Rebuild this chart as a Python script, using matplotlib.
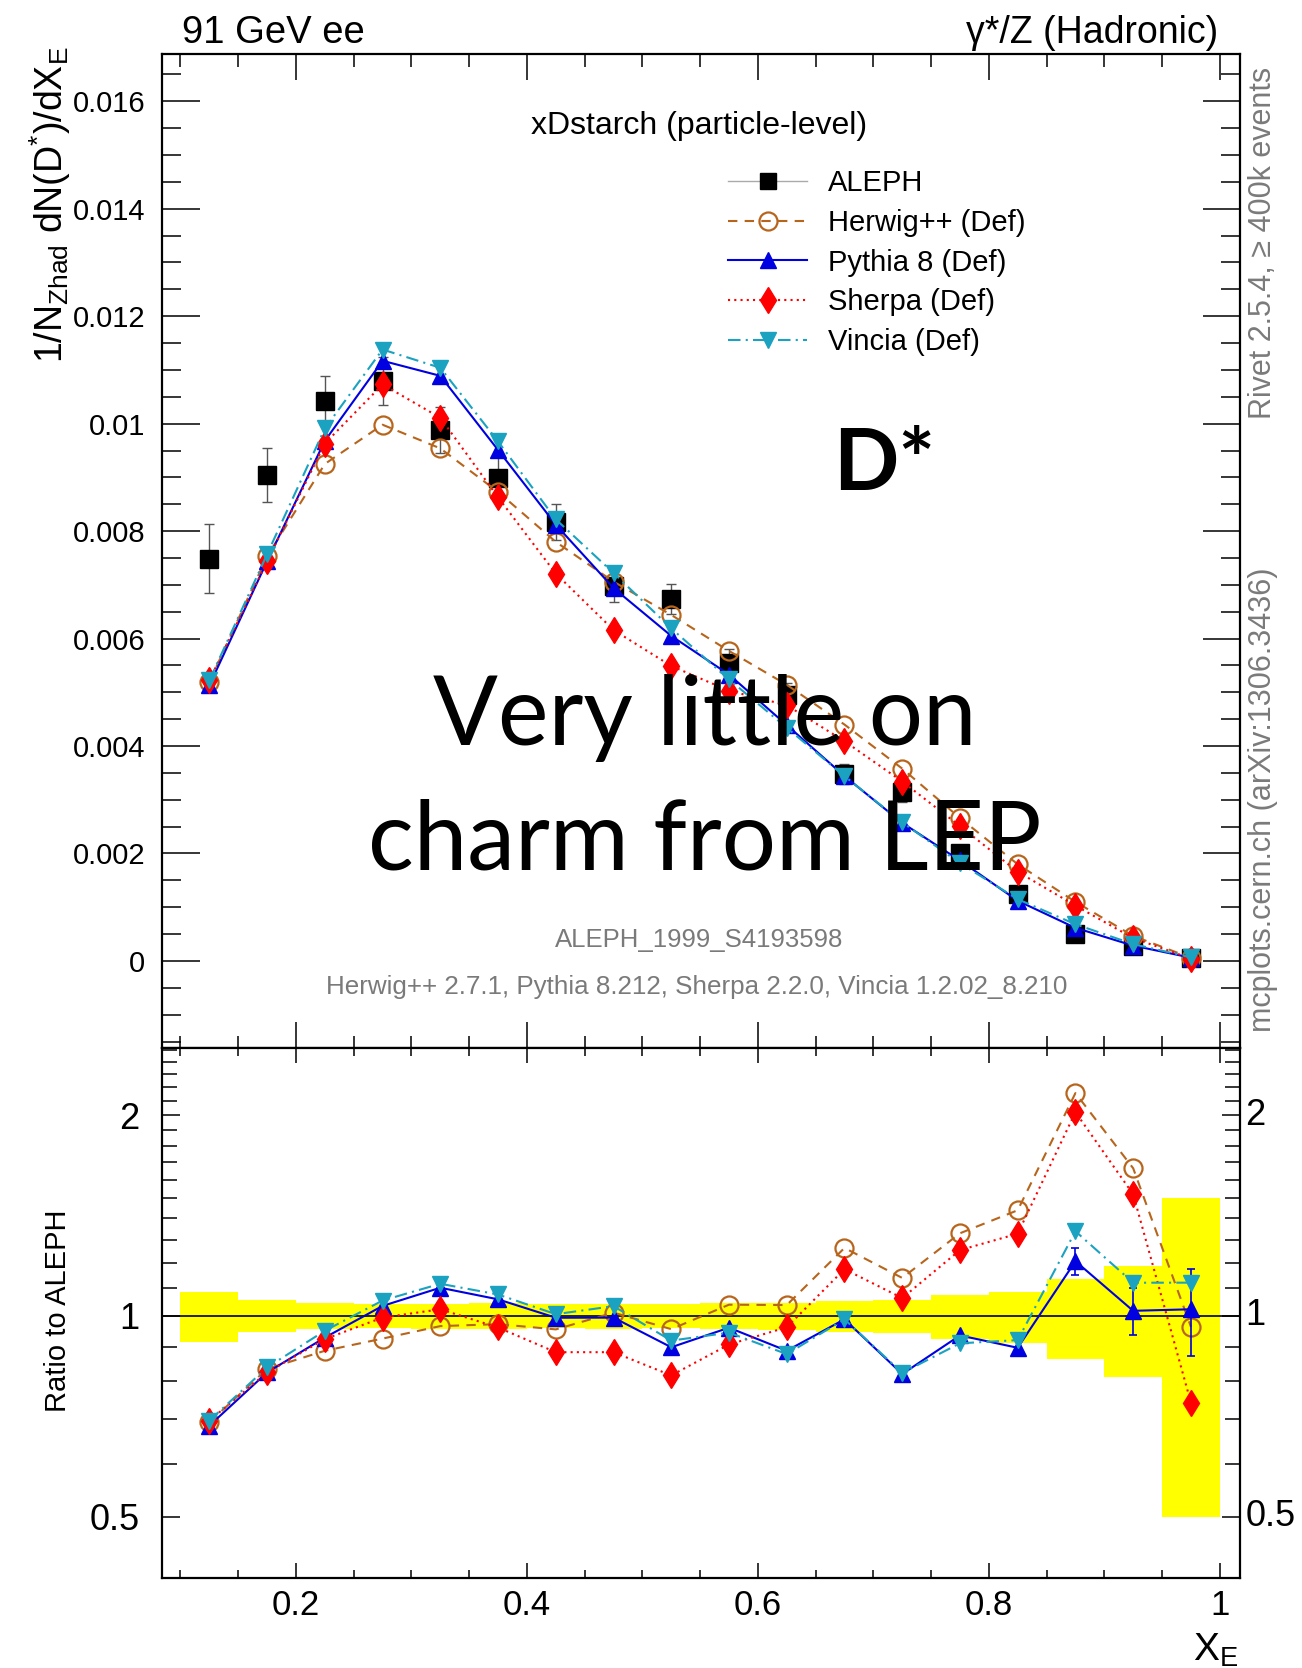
import matplotlib
matplotlib.use('Agg')
import matplotlib.pyplot as plt
from matplotlib.ticker import FixedLocator, MultipleLocator, FuncFormatter, NullFormatter
from matplotlib.lines import Line2D
import numpy as np

plt.rcParams['font.family'] = ['Liberation Sans', 'DejaVu Sans']
plt.rcParams['mathtext.fontset'] = 'custom'
plt.rcParams['mathtext.rm'] = 'Liberation Sans'
plt.rcParams['mathtext.it'] = 'Liberation Sans'
plt.rcParams['mathtext.bf'] = 'Liberation Sans:bold'

# D* scaled energy spectrum, bin centres (bins of 0.05 from 0.1 to 1.0)
x_e = [0.125, 0.175, 0.225, 0.275, 0.325, 0.375, 0.425, 0.475, 0.525,
       0.575, 0.625, 0.675, 0.725, 0.775, 0.825, 0.875, 0.925, 0.975]

aleph = [0.00749, 0.00904, 0.01043, 0.01079, 0.00988, 0.00898, 0.00817, 0.00698, 0.00674,
         0.00555, 0.00495, 0.00348, 0.00314, 0.00200, 0.00125, 0.00051, 0.00028, 0.00006]
aleph_err = [0.00064, 0.00050, 0.00046, 0.00045, 0.00043, 0.00040, 0.00034, 0.00030, 0.00028,
             0.00025, 0.00023, 0.00019, 0.00018, 0.00015, 0.00011, 0.00007, 0.000053, 0.00003]

herwig = [0.00519, 0.00753, 0.00925, 0.00998, 0.00954, 0.00873, 0.00780, 0.00706, 0.00644,
          0.00577, 0.00514, 0.00440, 0.00358, 0.00266, 0.00180, 0.00110, 0.000466, 0.0000578]
pythia = [0.00513, 0.00744, 0.00968, 0.01117, 0.01089, 0.00951, 0.00812, 0.00694, 0.00605,
          0.00533, 0.00439, 0.00344, 0.00257, 0.00187, 0.00112, 0.000616, 0.000285, 0.0000614]
sherpa = [0.00522, 0.00744, 0.00963, 0.01073, 0.01011, 0.00863, 0.00721, 0.00616, 0.00549,
          0.00503, 0.00476, 0.00409, 0.00334, 0.00251, 0.00166, 0.00103, 0.000426, 0.0000445]
vincia = [0.00522, 0.00757, 0.00991, 0.01138, 0.01104, 0.00967, 0.00822, 0.00722, 0.00619,
          0.00524, 0.00434, 0.00344, 0.00258, 0.00182, 0.00115, 0.000683, 0.000314, 0.0000673]
# MC stat errors, only visible in the last bins
pythia_err_tail = [0.000029, 0.000023, 0.0000092]

W, H = 1302, 1668


def fx(px):
    return px / W


def fy(py):
    return 1 - py / H


fig = plt.figure(figsize=(W / 100, H / 100), dpi=100)
ax = fig.add_axes([fx(162), fy(1048), (1240 - 162) / W, (1048 - 54) / H])
rax = fig.add_axes([fx(162), fy(1578), (1240 - 162) / W, (1578 - 1048) / H])

for a in (ax, rax):
    for s in a.spines.values():
        s.set_linewidth(1.6)
    a.set_xlim(0.084, 1.0175)
    a.xaxis.set_major_locator(MultipleLocator(0.2))
    a.xaxis.set_minor_locator(MultipleLocator(0.05))
    a.tick_params(which='both', direction='in', top=True, right=True, width=1.1)

gfmt = FuncFormatter(lambda v, p: '%g' % round(v, 6))

# ---- main panel
ax.set_ylim(-0.00162, 0.01688)
ax.yaxis.set_major_locator(MultipleLocator(0.002))
ax.yaxis.set_minor_locator(MultipleLocator(0.0005))
ax.yaxis.set_major_formatter(gfmt)
ax.tick_params(axis='x', which='major', length=19, labelbottom=False)
ax.tick_params(axis='x', which='minor', length=9)
ax.tick_params(axis='y', which='major', length=27, labelsize=21, pad=12)
ax.tick_params(axis='y', which='minor', length=13.5)

ax.errorbar(x_e, aleph, yerr=aleph_err, fmt='s', color='k', ms=12.5,
            ecolor='#555555', elinewidth=1, capsize=3.5, capthick=1, zorder=3)

styles = [
    ('Herwig++ (Def)', herwig, dict(color='#b8651c', ls=(0, (4.5, 3.5)), marker='o',
                                    mfc='none', mec='#b8651c', mew=1.6, ms=13)),
    ('Pythia 8 (Def)', pythia, dict(color='#0000e0', ls='-', marker='^', ms=12)),
    ('Sherpa (Def)', sherpa, dict(color='#ff0000', ls=(0, (1, 2)), marker='d', ms=13)),
    ('Vincia (Def)', vincia, dict(color='#1aa2c0', ls=(0, (6, 2.5, 1, 2.5)), marker='v', ms=12)),
]

handles = [Line2D([], [], color='#aaaaaa', lw=1, marker='s', mfc='k', mec='k', ms=12)]
labels = ['ALEPH']
aleph_arr = np.array(aleph)
for i, (name, vals, st) in enumerate(styles):
    ln, = ax.plot(x_e, vals, lw=1.5, zorder=4 + i, **st)
    handles.append(ln)
    labels.append(name)
    rax.plot(x_e, np.array(vals) / aleph_arr, lw=1.5, zorder=4 + i, **st)

rax.errorbar(x_e[-3:], np.array(pythia[-3:]) / aleph_arr[-3:],
             yerr=np.array(pythia_err_tail) / aleph_arr[-3:], fmt='none',
             ecolor='#0000e0', elinewidth=1.2, capsize=3, capthick=1.2, zorder=5)

ax.legend(handles, labels, loc='upper left', bbox_to_anchor=(0.5255, 0.884),
          frameon=False, fontsize=21, handlelength=2.7, handletextpad=0.7,
          labelspacing=0.4, borderpad=0, borderaxespad=0, numpoints=1)

# ---- ratio panel
rel = np.array(aleph_err) / aleph_arr
rax.bar(x_e, 2 * rel, bottom=1 - rel, width=0.05, color='#ffff00', lw=0, zorder=1)
rax.axhline(1, color='k', lw=1.2, zorder=2)
rax.set_yscale('log')
rax.set_ylim(0.405, 2.52)
rax.yaxis.set_major_locator(FixedLocator([0.5, 1, 2]))
rax.yaxis.set_major_formatter(gfmt)
rax.yaxis.set_minor_locator(FixedLocator([v for v in np.arange(0.4, 2.55, 0.1)
                                          if min(abs(v - m) for m in (0.5, 1, 2)) > 1e-6]))
rax.yaxis.set_minor_formatter(NullFormatter())
rax.xaxis.set_major_formatter(gfmt)
rax.tick_params(axis='x', which='major', length=11, labelsize=25, pad=8)
rax.tick_params(axis='x', which='minor', length=6)
rax.tick_params(axis='y', which='major', length=13, labelsize=26, pad=16)
rax.tick_params(axis='y', which='minor', length=11)
for v in (0.5, 1, 2):
    rax.text(1.005, v, '%g' % v, transform=rax.get_yaxis_transform(),
             ha='left', va='center', fontsize=26)

# ---- labels and annotations
fig.text(fx(182), fy(43), '91 GeV ee', fontsize=27.5, ha='left', va='baseline')
fig.text(fx(1218), fy(43), 'γ*/Z (Hadronic)', fontsize=27, ha='right', va='baseline')
fig.text(fx(699), fy(126), 'xDstarch (particle-level)', fontsize=23, ha='center', va='center')
fig.text(fx(50), fy(205), r'$\mathrm{1/N_{Zhad}\ dN(D^{*})/dX_{E}}$', rotation=90,
         fontsize=27, ha='center', va='center')
fig.text(fx(58), fy(1311), 'Ratio to ALEPH', rotation=90, fontsize=21, ha='center', va='center')
fig.text(fx(1193), fy(1661), r'$\mathrm{X_{E}}$', fontsize=28, ha='left', va='baseline')

grey = '#7a7a7a'
fig.text(fx(699), fy(940), 'ALEPH_1999_S4193598', fontsize=18.5, color=grey,
         ha='center', va='center')
fig.text(fx(697), fy(987), 'Herwig++ 2.7.1, Pythia 8.212, Sherpa 2.2.0, Vincia 1.2.02_8.210',
         fontsize=18.7, color=grey, ha='center', va='center')
fig.text(fx(1263), fy(243), 'Rivet 2.5.4, ≥ 400k events', rotation=90, fontsize=22,
         color=grey, ha='center', va='center')
fig.text(fx(1263), fy(800), 'mcplots.cern.ch (arXiv:1306.3436)', rotation=90, fontsize=22,
         color=grey, ha='center', va='center')

fig.text(fx(833), fy(490), 'D*', fontsize=62, family=['Lato', 'DejaVu Sans'],
         weight='bold', ha='left', va='baseline')
fig.text(fx(705), fy(745), 'Very little on', fontsize=69, family=['Lato', 'DejaVu Sans'],
         ha='center', va='baseline')
fig.text(fx(705), fy(870), 'charm from LEP', fontsize=69, family=['Lato', 'DejaVu Sans'],
         ha='center', va='baseline')

fig.savefig('out.png', dpi=100)
